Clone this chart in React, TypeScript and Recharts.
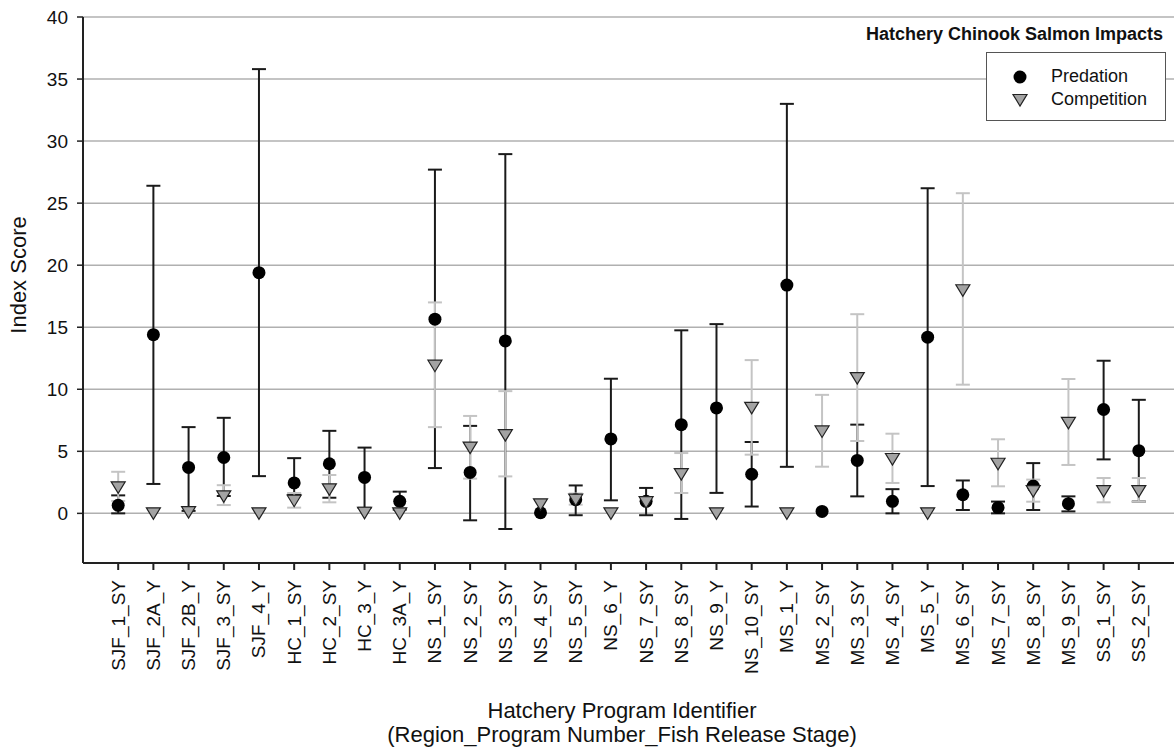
import { CartesianGrid, ErrorBar, Scatter, ScatterChart, XAxis, YAxis } from 'recharts';

const programs = [
	'SJF_1_SY', 'SJF_2A_Y', 'SJF_2B_Y', 'SJF_3_SY', 'SJF_4_Y', 'HC_1_SY', 'HC_2_SY', 'HC_3_Y',
	'HC_3A_Y', 'NS_1_SY', 'NS_2_SY', 'NS_3_SY', 'NS_4_SY', 'NS_5_SY', 'NS_6_Y', 'NS_7_SY',
	'NS_8_SY', 'NS_9_Y', 'NS_10_SY', 'MS_1_Y', 'MS_2_SY', 'MS_3_SY', 'MS_4_SY', 'MS_5_Y',
	'MS_6_SY', 'MS_7_SY', 'MS_8_SY', 'MS_9_SY', 'SS_1_SY', 'SS_2_SY',
];

const predation = [
	0.65, 14.4, 3.7, 4.5, 19.4, 2.45, 4.0, 2.9, 0.97, 15.65, 3.3, 13.9, 0.05, 1.1, 6.0,
	0.97, 7.15, 8.5, 3.15, 18.4, 0.16, 4.27, 0.97, 14.2, 1.5, 0.47, 2.2, 0.78, 8.37, 5.05,
];
const predationLow = [
	0, 2.37, 0.2, 1.4, 3.0, 1.5, 1.26, 0.45, 0.3, 3.65, -0.56, -1.26, null, -0.15, 1.05,
	-0.15, -0.45, 1.65, 0.55, 3.75, null, 1.37, 0, 2.2, 0.27, 0, 0.27, 0.16, 4.35, 0.95,
];
const predationHigh = [
	1.45, 26.4, 6.95, 7.7, 35.8, 4.45, 6.65, 5.3, 1.75, 27.7, 7.05, 28.95, null, 2.25, 10.85,
	2.05, 14.75, 15.25, 5.75, 33.0, null, 7.15, 1.95, 26.2, 2.65, 0.95, 4.05, 1.37, 12.3, 9.15,
];

const competition = [
	2.1, 0, 0.1, 1.37, 0, 1.02, 1.94, 0.05, 0, 11.9, 5.3, 6.3, 0.73, 1.1, 0,
	0.9, 3.17, 0, 8.5, 0, 6.6, 10.9, 4.38, 0, 17.98, 4.0, 1.8, 7.3, 1.8, 1.8,
];
const competitionLow = [
	1.0, null, null, 0.67, null, 0.46, 0.89, null, null, 6.95, 2.8, 2.98, null, 0.7, null,
	null, 1.64, null, 4.73, null, 3.76, 5.83, 2.45, null, 10.37, 2.18, 0.94, 3.9, 0.89, 0.94,
];
const competitionHigh = [
	3.35, null, null, 2.27, null, 1.64, 3.09, null, null, 17.0, 7.85, 9.85, null, 1.6, null,
	null, 4.86, null, 12.35, null, 9.55, 16.05, 6.42, null, 25.8, 5.97, 2.72, 10.83, 2.85, 2.85,
];

const yTicks = [0, 5, 10, 15, 20, 25, 30, 35, 40];
const xTicks = programs.map((_, i) => i + 1);

const FONT = '"Liberation Sans", Arial, sans-serif';

function toRows(values: number[], lows: (number | null)[], highs: (number | null)[]) {
	return values.map((v, i) => {
		const lo = lows[i];
		const hi = highs[i];
		return {
			x: i + 1,
			y: v,
			err: lo === null || hi === null ? null : [v - lo, hi - v],
		};
	});
}

const predationRows = toRows(predation, predationLow, predationHigh);
const competitionRows = toRows(competition, competitionLow, competitionHigh);

const ProgramTick = ({ x, y, payload }: any) => (
	<text
		x={x}
		y={y}
		transform={`rotate(-90, ${x}, ${y})`}
		textAnchor="end"
		dominantBaseline="central"
		fontSize={19}
		fontFamily={FONT}
		fill="#111"
	>
		{programs[payload.value - 1]}
	</text>
);

const Dot = ({ cx, cy }: any) => <circle cx={cx} cy={cy} r={6.5} fill="#000" />;

const Triangle = ({ cx, cy }: any) => (
	<polygon
		points={`${cx - 7},${cy - 5.5} ${cx + 7},${cy - 5.5} ${cx},${cy + 6}`}
		fill="#a3a3a3"
		stroke="#222"
		strokeWidth={1.2}
	/>
);

const Nothing = () => <g />;

const XTitle = () => (
	<g fontFamily={FONT} fontSize={22} fill="#111">
		<text x={622} y={718} textAnchor="middle">
			Hatchery Program Identifier
		</text>
		<text x={622} y={742} textAnchor="middle">
			(Region_Program Number_Fish Release Stage)
		</text>
	</g>
);

export default function App() {
	return (
		<div style={{ position: 'absolute', left: 0, top: 0, width: 1175, height: 751 }}>
			<ScatterChart
				width={1175}
				height={751}
				margin={{ top: 17, right: 1, left: 0, bottom: 0 }}
			>
				<CartesianGrid vertical={false} stroke="#b0b0b0" strokeWidth={1.5} />
				<XAxis
					type="number"
					dataKey="x"
					domain={[0, 31]}
					ticks={xTicks}
					interval={0}
					height={188}
					tickSize={7}
					tickMargin={10}
					tick={<ProgramTick />}
					axisLine={{ stroke: '#222', strokeWidth: 2 }}
					tickLine={{ stroke: '#222', strokeWidth: 2 }}
					label={{ content: <XTitle /> }}
				/>
				<YAxis
					type="number"
					dataKey="y"
					domain={[-4, 40]}
					allowDataOverflow
					ticks={yTicks}
					interval={0}
					width={83}
					tickSize={6}
					tickMargin={9}
					tick={{ fontSize: 19, fontFamily: FONT, fill: '#111' }}
					axisLine={{ stroke: '#222', strokeWidth: 2 }}
					tickLine={{ stroke: '#222', strokeWidth: 1.5 }}
					label={{
						value: 'Index Score',
						angle: -90,
						position: 'insideLeft',
						dx: 13,
						dy: -15,
						style: { fontSize: 22, fontFamily: FONT, fill: '#111', textAnchor: 'middle' },
					}}
				/>
				<Scatter data={predationRows} shape={<Nothing />} isAnimationActive={false} legendType="none">
					<ErrorBar dataKey="err" direction="y" width={7} stroke="#1a1a1a" strokeWidth={2} />
				</Scatter>
				<Scatter data={competitionRows} shape={<Nothing />} isAnimationActive={false} legendType="none">
					<ErrorBar dataKey="err" direction="y" width={7} stroke="#c4c4c4" strokeWidth={2} />
				</Scatter>
				<Scatter name="Predation" data={predationRows} shape={<Dot />} isAnimationActive={false} />
				<Scatter name="Competition" data={competitionRows} shape={<Triangle />} isAnimationActive={false} />
			</ScatterChart>

			<div
				style={{
					position: 'absolute',
					right: 12,
					top: 24,
					fontFamily: FONT,
					fontWeight: 'bold',
					fontSize: 18,
					color: '#111',
					whiteSpace: 'nowrap',
				}}
			>
				Hatchery Chinook Salmon Impacts
			</div>
			<div
				style={{
					position: 'absolute',
					left: 986,
					top: 52,
					width: 180,
					height: 69,
					boxSizing: 'border-box',
					border: '1px solid #555',
					background: '#fff',
					fontFamily: FONT,
					fontSize: 18,
					color: '#111',
				}}
			>
				<svg width={20} height={60} style={{ position: 'absolute', left: 23, top: 8 }}>
					<Dot cx={10} cy={16} />
					<Triangle cx={10} cy={39} />
				</svg>
				<div style={{ position: 'absolute', left: 64, top: 13 }}>Predation</div>
				<div style={{ position: 'absolute', left: 64, top: 36 }}>Competition</div>
			</div>
		</div>
	);
}
